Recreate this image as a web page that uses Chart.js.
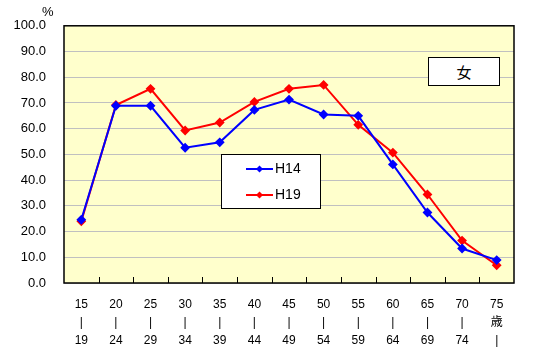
<!DOCTYPE html>
<html>
<head>
<meta charset="utf-8">
<script src="https://cdn.jsdelivr.net/npm/chart.js@4/dist/chart.umd.min.js"></script>
<style>
  html, body { margin: 0; padding: 0; background: #fff; }
  #wrap { position: relative; width: 540px; height: 354px; }
  #pct { position: absolute; left: 42px; top: 4px; font: 13px "Liberation Sans", sans-serif; }
  #sex { position: absolute; left: 428px; top: 57px; width: 70px; height: 27px; background: #fff;
         border: 1px solid #000; font: 15px "Noto Sans CJK JP", sans-serif; text-align: center; line-height: 27px; }
</style>
</head>
<body>
<div id="wrap">
  <canvas id="chart" width="540" height="354"></canvas>
  <div id="pct">%</div>
  <div id="sex">女</div>
</div>
<script>
// age groups (multi-line tick labels)
const ageLabels = [
  ['15', '|', '19'], ['20', '|', '24'], ['25', '|', '29'], ['30', '|', '34'],
  ['35', '|', '39'], ['40', '|', '44'], ['45', '|', '49'], ['50', '|', '54'],
  ['55', '|', '59'], ['60', '|', '64'], ['65', '|', '69'], ['70', '|', '74'],
  ['75', '歳', '|']
];

const seriesNames = ['H14', 'H19'];
const h14 = [24.6, 68.9, 68.9, 52.6, 54.7, 67.3, 71.3, 65.5, 65.0, 46.1, 27.4, 13.4, 8.9];
const h19 = [24.0, 69.2, 75.5, 59.3, 62.4, 70.4, 75.5, 77.0, 61.5, 50.7, 34.4, 16.5, 6.9];

const yTicks = [0, 10, 20, 30, 40, 50, 60, 70, 80, 90, 100];

// plot background, frame and inward x ticks
const plotFrame = {
  id: 'plotFrame',
  beforeDraw(chart) {
    const { ctx, chartArea: a } = chart;
    ctx.save();
    ctx.fillStyle = '#ffffcc';
    ctx.fillRect(a.left, a.top, a.right - a.left, a.bottom - a.top);
    ctx.restore();
  },
  afterDatasetsDraw(chart) {
    const { ctx, chartArea: a } = chart;
    const xs = chart.scales.x;
    const n = chart.data.labels.length;
    ctx.save();
    ctx.strokeStyle = '#000';
    ctx.lineWidth = 1;
    ctx.beginPath();
    for (let i = 1; i < n; i++) {
      const x = Math.round((xs.getPixelForValue(i - 1) + xs.getPixelForValue(i)) / 2) + 0.5;
      ctx.moveTo(x, a.bottom);
      ctx.lineTo(x, a.bottom - 6);
    }
    ctx.stroke();
    ctx.lineWidth = 1.5;
    ctx.strokeRect(a.left, a.top, a.right - a.left, a.bottom - a.top);
    ctx.restore();
  }
};

// legend box inside the plot
const boxLegend = {
  id: 'boxLegend',
  afterDraw(chart) {
    const { ctx } = chart;
    const bx = 221, by = 154, bw = 99, bh = 54;
    ctx.save();
    ctx.fillStyle = '#fff';
    ctx.fillRect(bx, by, bw, bh);
    ctx.strokeStyle = '#000';
    ctx.lineWidth = 1;
    ctx.strokeRect(bx + 0.5, by + 0.5, bw, bh);
    chart.data.datasets.forEach((ds, i) => {
      const y = by + 15 + i * 26;
      ctx.strokeStyle = ds.borderColor;
      ctx.lineWidth = 2;
      ctx.beginPath();
      ctx.moveTo(246, y);
      ctx.lineTo(273, y);
      ctx.stroke();
      ctx.fillStyle = ds.borderColor;
      ctx.beginPath();
      ctx.moveTo(259.5, y - 3.5);
      ctx.lineTo(263, y);
      ctx.lineTo(259.5, y + 3.5);
      ctx.lineTo(256, y);
      ctx.closePath();
      ctx.fill();
      ctx.fillStyle = '#000';
      ctx.font = '14px "Liberation Sans", sans-serif';
      ctx.textBaseline = 'middle';
      ctx.fillText(ds.label, 275, y);
    });
    ctx.restore();
  }
};

new Chart(document.getElementById('chart'), {
  type: 'line',
  data: {
    labels: ageLabels,
    datasets: [
      { label: seriesNames[0], data: h14, borderColor: '#0000ff', backgroundColor: '#0000ff',
        borderWidth: 2, pointStyle: 'rectRot', pointRadius: 3.5, tension: 0 },
      { label: seriesNames[1], data: h19, borderColor: '#ff0000', backgroundColor: '#ff0000',
        borderWidth: 2, pointStyle: 'rectRot', pointRadius: 3.5, tension: 0 }
    ]
  },
  options: {
    responsive: false,
    animation: false,
    layout: { padding: { top: 25, right: 26, left: 0, bottom: 0 } },
    plugins: { legend: { display: false }, tooltip: { enabled: false } },
    scales: {
      x: {
        offset: true,
        grid: { display: false },
        border: { display: false },
        ticks: {
          color: '#000', padding: 5, maxRotation: 0, autoSkip: false,
          font: { family: '"Liberation Sans", "Noto Sans CJK JP", sans-serif', size: 12, lineHeight: 1.5 }
        },
        afterFit(scale) { scale.height = 71; }
      },
      y: {
        min: 0, max: 100,
        afterBuildTicks(scale) { scale.ticks = yTicks.map(v => ({ value: v })); },
        grid: { color: '#c0c0c0', lineWidth: 1, drawTicks: false },
        border: { display: false },
        ticks: {
          color: '#000', padding: 18,
          font: { family: '"Liberation Sans", sans-serif', size: 13 },
          callback: v => v.toFixed(1)
        },
        afterFit(scale) { scale.width = 64; }
      }
    }
  },
  plugins: [plotFrame, boxLegend]
});
</script>
</body>
</html>
